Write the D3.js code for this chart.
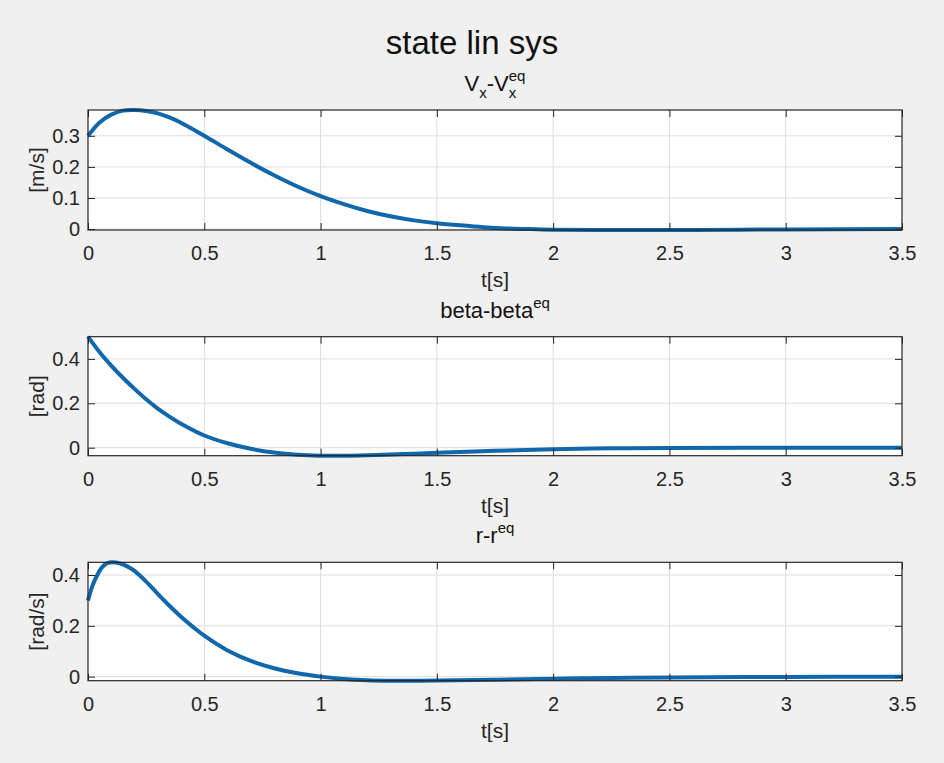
<!DOCTYPE html>
<html>
<head>
<meta charset="utf-8">
<script src="https://cdn.jsdelivr.net/npm/d3@7/dist/d3.min.js"></script>
<style>
  html, body { margin: 0; padding: 0; background: #f0f0f0; }
  svg { display: block; font-family: "Liberation Sans", Arial, sans-serif; }
</style>
</head>
<body>
<svg id="fig" width="944" height="763"></svg>
<script>
// ---- data ---------------------------------------------------------------
const xTickValues = [0, 0.5, 1, 1.5, 2, 2.5, 3, 3.5];

// longitudinal velocity deviation Vx - Vx_eq  [m/s]
const timeVx = [0, 0.05, 0.1, 0.15, 0.2, 0.25, 0.3, 0.35, 0.4, 0.5, 0.6, 0.7, 0.8, 0.9, 1.0,
                1.1, 1.2, 1.3, 1.4, 1.5, 1.6, 1.7, 1.8, 1.9, 2.0, 2.2, 2.5, 2.8, 3.0, 3.5];
const vxDev  = [0.300, 0.343, 0.368, 0.381, 0.383, 0.380, 0.372, 0.359, 0.342, 0.300, 0.256,
                0.213, 0.173, 0.137, 0.106, 0.080, 0.058, 0.041, 0.028, 0.019, 0.012, 0.006,
                0.002, 0.000, -0.002, -0.003, -0.003, -0.002, -0.001, 0.000];
const yTicksVx = [0, 0.1, 0.2, 0.3];

// sideslip deviation beta - beta_eq  [rad]
const timeBeta = [0, 0.05, 0.1, 0.15, 0.2, 0.25, 0.3, 0.35, 0.4, 0.5, 0.6, 0.7, 0.8, 0.9,
                  1.0, 1.1, 1.2, 1.3, 1.4, 1.5, 1.75, 2.0, 2.25, 2.5, 3.0, 3.5];
const betaDev  = [0.500, 0.430, 0.370, 0.315, 0.265, 0.218, 0.176, 0.140, 0.108, 0.055, 0.020,
                  -0.005, -0.022, -0.032, -0.036, -0.036, -0.034, -0.031, -0.027, -0.023,
                  -0.014, -0.007, -0.003, -0.001, 0.000, 0.000];
const yTicksBeta = [0, 0.2, 0.4];

// yaw-rate deviation r - r_eq  [rad/s]
const timeR = [0, 0.02, 0.04, 0.06, 0.08, 0.1, 0.12, 0.14, 0.16, 0.18, 0.2, 0.25, 0.3, 0.35,
               0.4, 0.45, 0.5, 0.6, 0.7, 0.8, 0.9, 1.0, 1.1, 1.2, 1.3, 1.4, 1.5, 1.75, 2.0,
               2.25, 2.5, 3.0, 3.5];
const rDev  = [0.300, 0.360, 0.400, 0.430, 0.445, 0.450, 0.449, 0.445, 0.438, 0.428, 0.416,
               0.374, 0.326, 0.279, 0.236, 0.197, 0.161, 0.103, 0.062, 0.033, 0.013, 0.000,
               -0.009, -0.014, -0.016, -0.016, -0.015, -0.012, -0.008, -0.005, -0.003,
               -0.001, 0.000];
const yTicksR = [0, 0.2, 0.4];

// ---- layout -------------------------------------------------------------
const svg = d3.select("#fig");
const W = 944, H = 763;
const left = 88, right = 902;
const textColor = "#262626";
const lineColor = "#1067ab";
const gridColor = "#dcdcdc";

svg.append("rect").attr("width", W).attr("height", H).attr("fill", "#f0f0f0");

svg.append("text")
  .attr("x", W / 2).attr("y", 54)
  .attr("text-anchor", "middle")
  .attr("font-size", 33).attr("fill", "#111")
  .text("state lin sys");

const panels = [
  { t: timeVx, v: vxDev, yTicks: yTicksVx, top: 110, bottom: 230,
    ylabel: "[m/s]", title: [["V"], ["x", "sub"], ["-V"], ["x", "sub"], ["eq", "sup"]] },
  { t: timeBeta, v: betaDev, yTicks: yTicksBeta, top: 336.7, bottom: 455.7,
    ylabel: "[rad]", title: [["beta-beta"], ["eq", "sup"]] },
  { t: timeR, v: rDev, yTicks: yTicksR, top: 562.3, bottom: 680.7,
    ylabel: "[rad/s]", title: [["r-r"], ["eq", "sup"]] }
];

const x = d3.scaleLinear().domain([0, 3.5]).range([left, right]);
const tickLen = 7;

panels.forEach(p => {
  const y = d3.scaleLinear().domain(d3.extent(p.v)).range([p.bottom, p.top]);
  const g = svg.append("g");

  // plot area
  g.append("rect")
    .attr("x", left).attr("y", p.top)
    .attr("width", right - left).attr("height", p.bottom - p.top)
    .attr("fill", "#ffffff");

  // grid
  g.append("g").selectAll("line").data(xTickValues.slice(1, -1)).join("line")
    .attr("x1", d => x(d)).attr("x2", d => x(d))
    .attr("y1", p.top).attr("y2", p.bottom)
    .attr("stroke", gridColor).attr("stroke-width", 1);
  g.append("g").selectAll("line").data(p.yTicks).join("line")
    .attr("x1", left).attr("x2", right)
    .attr("y1", d => y(d)).attr("y2", d => y(d))
    .attr("stroke", gridColor).attr("stroke-width", 1);

  // data line
  const line = d3.line()
    .x((d, i) => x(p.t[i]))
    .y(d => y(d))
    .curve(d3.curveCatmullRom.alpha(0.5));
  g.append("path")
    .attr("d", line(p.v))
    .attr("fill", "none")
    .attr("stroke", lineColor)
    .attr("stroke-width", 4)
    .attr("stroke-linejoin", "round")
    .attr("stroke-linecap", "butt");

  // axes (inward ticks on all four sides, box on)
  const axB = d3.axisBottom(x).tickValues(xTickValues).tickSizeInner(-tickLen).tickSizeOuter(0)
    .tickPadding(16).tickFormat(d3.format("~g"));
  const axT = d3.axisTop(x).tickValues(xTickValues).tickSizeInner(-tickLen).tickSizeOuter(0)
    .tickFormat("");
  const axL = d3.axisLeft(y).tickValues(p.yTicks).tickSizeInner(-tickLen).tickSizeOuter(0)
    .tickPadding(8).tickFormat(d3.format("~g"));
  const axR = d3.axisRight(y).tickValues(p.yTicks).tickSizeInner(-tickLen).tickSizeOuter(0)
    .tickFormat("");

  const style = sel => {
    sel.select(".domain").remove();
    sel.selectAll(".tick line").attr("stroke", textColor).attr("stroke-width", 1);
    sel.selectAll(".tick text").attr("fill", textColor).attr("font-size", 20)
      .attr("font-family", "'Liberation Sans', Arial, sans-serif");
  };
  g.append("g").attr("transform", `translate(0,${p.bottom})`).call(axB).call(style);
  g.append("g").attr("transform", `translate(0,${p.top})`).call(axT).call(style);
  g.append("g").attr("transform", `translate(${left},0)`).call(axL).call(style);
  g.append("g").attr("transform", `translate(${right},0)`).call(axR).call(style);

  // box
  g.append("rect")
    .attr("x", left).attr("y", p.top)
    .attr("width", right - left).attr("height", p.bottom - p.top)
    .attr("fill", "none").attr("stroke", textColor).attr("stroke-width", 1.2);

  // x label
  g.append("text")
    .attr("x", (left + right) / 2).attr("y", p.bottom + 57)
    .attr("text-anchor", "middle").attr("font-size", 21).attr("fill", textColor)
    .text("t[s]");

  // y label
  g.append("text")
    .attr("transform", `translate(44,${(p.top + p.bottom) / 2}) rotate(-90)`)
    .attr("text-anchor", "middle").attr("font-size", 21).attr("fill", textColor)
    .text(p.ylabel);

  // title with sub/superscripts
  const title = g.append("text")
    .attr("x", (left + right) / 2).attr("y", p.top - 19)
    .attr("text-anchor", "middle").attr("font-size", 22).attr("fill", "#111");
  let shift = 0;
  p.title.forEach(([txt, kind], i) => {
    const span = title.append("tspan").text(txt);
    let target = 0;
    if (kind === "sub") { target = 7; span.attr("font-size", 15); }
    if (kind === "sup") { target = -10; span.attr("font-size", 15); }
    span.attr("dy", target - shift);
    // a superscript following a subscript is stacked above it
    if (kind === "sup" && i > 0 && p.title[i - 1][1] === "sub") span.attr("dx", -7.5);
    shift = target;
  });
});
</script>
</body>
</html>
